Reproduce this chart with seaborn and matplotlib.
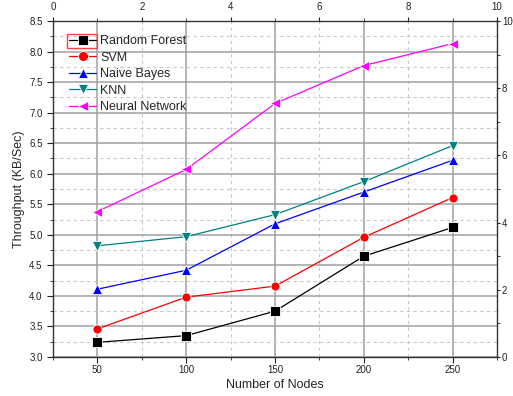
import matplotlib
matplotlib.use("Agg")
import matplotlib.pyplot as plt
import seaborn as sns
import pandas as pd
from matplotlib.ticker import MultipleLocator
from matplotlib.patches import Rectangle

nodes = [50, 100, 150, 200, 250]
random_forest = [3.24, 3.35, 3.75, 4.65, 5.12]
svm = [3.46, 3.98, 4.16, 4.96, 5.61]
naive_bayes = [4.11, 4.42, 5.18, 5.70, 6.22]
knn = [4.82, 4.97, 5.33, 5.87, 6.46]
neural_network = [5.38, 6.07, 7.15, 7.77, 8.13]

models = ["Random Forest", "SVM", "Naive Bayes", "KNN", "Neural Network"]
series = [random_forest, svm, naive_bayes, knn, neural_network]
colors = ["#000000", "#ff0000", "#0000ff", "#008080", "#ff00ff"]
marker_list = ["s", "o", "^", "v", "<"]

rows = []
for m, vals in zip(models, series):
    for n, v in zip(nodes, vals):
        rows.append({"Nodes": n, "Throughput": v, "Model": m})
df = pd.DataFrame(rows)

sns.set_style("white")
plt.rcParams["font.family"] = ["Liberation Sans", "DejaVu Sans"]

fig = plt.figure(figsize=(5.13, 3.96), dpi=100)
ax = fig.add_axes([53/513, 39/396, 444/513, 336/396])

sns.lineplot(data=df, x="Nodes", y="Throughput", hue="Model", style="Model",
             hue_order=models, style_order=models,
             palette=dict(zip(models, colors)),
             markers=dict(zip(models, marker_list)), dashes=False,
             markersize=6.5, linewidth=0.9, markeredgewidth=0.6, ax=ax, zorder=5)

ax.set_xlim(25, 275)
ax.set_ylim(3.0, 8.5)
ax.set_xticks(nodes)
ax.xaxis.set_minor_locator(MultipleLocator(25))
ax.yaxis.set_major_locator(MultipleLocator(0.5))
ax.yaxis.set_minor_locator(MultipleLocator(0.25))
ax.yaxis.set_major_formatter(matplotlib.ticker.FormatStrFormatter("%.1f"))
ax.grid(which="major", color="#a0a0a0", linewidth=1.1, linestyle="-")
ax.grid(which="minor", color="#c8c8c8", linewidth=0.8, linestyle=(0, (3, 3)))
ax.set_axisbelow(True)
ax.tick_params(which="both", direction="out", labelsize=7, colors="#222222")
ax.tick_params(which="major", length=4)
ax.tick_params(which="minor", length=2.5)
ax.tick_params(axis="x", which="major", pad=2)
ax.set_xlabel("Number of Nodes", fontsize=9, labelpad=3)
ax.set_ylabel("Throughput (KB/Sec)", fontsize=9, labelpad=3)
for s in ax.spines.values():
    s.set_color("#333333")
    s.set_linewidth(1.0)

ax_top = ax.twiny()
ax_top.set_xlim(0, 10)
ax_top.xaxis.set_major_locator(MultipleLocator(2))
ax_top.xaxis.set_minor_locator(MultipleLocator(1))
ax_top.tick_params(which="both", direction="out", labelsize=7, colors="#222222")
ax_top.tick_params(which="major", length=3)
ax_top.tick_params(which="minor", length=2)

ax_right = ax.twinx()
ax_right.set_ylim(0, 10)
ax_right.yaxis.set_major_locator(MultipleLocator(2))
ax_right.yaxis.set_minor_locator(MultipleLocator(1))
ax_right.tick_params(which="both", direction="out", labelsize=7, colors="#222222", pad=1)
ax_right.tick_params(which="major", length=2.5)
ax_right.tick_params(which="minor", length=2)
for a in (ax_top, ax_right):
    for s in a.spines.values():
        s.set_visible(False)
ax.spines["top"].set_visible(True)
ax.spines["right"].set_visible(True)

handles, labels = ax.get_legend_handles_labels()
ax.legend(handles, labels, loc="upper left", bbox_to_anchor=(0.03, 0.965),
          frameon=False, fontsize=9, handlelength=2.2, handletextpad=0.3,
          labelspacing=0.36, borderaxespad=0, borderpad=0.2, markerscale=1.1)

fig.patches.append(Rectangle((67/513, 1 - 48/396), 30/513, 14/396,
                             transform=fig.transFigure, fill=False,
                             edgecolor="#ff4040", linewidth=1.0))

fig.savefig("out.png", dpi=100)
